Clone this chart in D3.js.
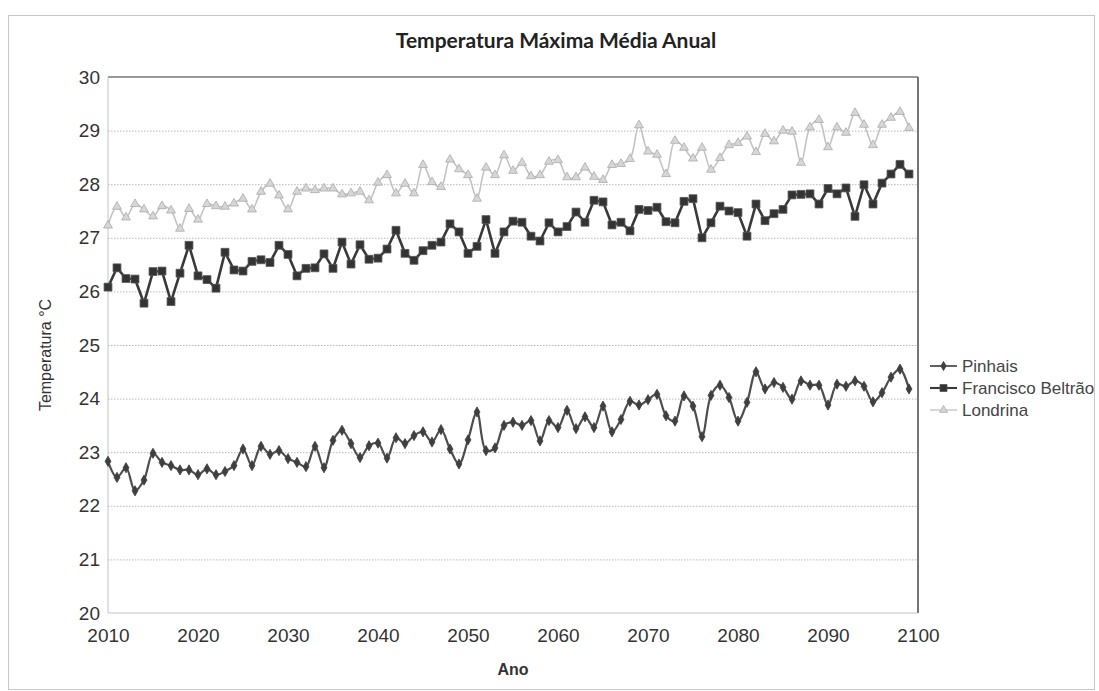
<!DOCTYPE html>
<html>
<head>
<meta charset="utf-8">
<script src="https://cdn.jsdelivr.net/npm/d3@7"></script>
<style>
  html, body { margin: 0; padding: 0; background: #fff; }
  svg { display: block; }
</style>
</head>
<body>
<div id="chart"></div>
<script>
// Annual mean maximum temperature projections, 2010–2099
const years = d3.range(2010, 2100);

const pinhais = [
  22.83, 22.53, 22.71, 22.28, 22.48, 22.98, 22.81, 22.75, 22.67, 22.67,
  22.58, 22.69, 22.58, 22.64, 22.75, 23.06, 22.75, 23.11, 22.96, 23.03,
  22.88, 22.81, 22.73, 23.11, 22.71, 23.22, 23.41, 23.16, 22.90, 23.12,
  23.17, 22.89, 23.27, 23.16, 23.31, 23.38, 23.19, 23.42, 23.06, 22.78,
  23.23, 23.75, 23.03, 23.08, 23.50, 23.56, 23.50, 23.59, 23.21, 23.59,
  23.46, 23.78, 23.44, 23.66, 23.46, 23.86, 23.38, 23.61, 23.95, 23.88,
  23.98, 24.08, 23.68, 23.58, 24.05, 23.86, 23.29, 24.06, 24.25, 24.02,
  23.58, 23.93, 24.50, 24.18, 24.30, 24.21, 23.99, 24.33, 24.25, 24.25,
  23.88, 24.27, 24.23, 24.33, 24.23, 23.94, 24.11, 24.40, 24.55, 24.18
];

const franciscoBeltrao = [
  26.08, 26.44, 26.24, 26.23, 25.78, 26.37, 26.38, 25.81, 26.34, 26.86,
  26.29, 26.22, 26.06, 26.73, 26.40, 26.38, 26.56, 26.59, 26.54, 26.86,
  26.69, 26.29, 26.43, 26.44, 26.70, 26.43, 26.92, 26.51, 26.87, 26.60,
  26.62, 26.79, 27.14, 26.71, 26.58, 26.76, 26.86, 26.92, 27.26, 27.11,
  26.71, 26.84, 27.34, 26.71, 27.11, 27.31, 27.29, 27.03, 26.94, 27.28,
  27.11, 27.21, 27.48, 27.29, 27.70, 27.67, 27.24, 27.29, 27.13, 27.53,
  27.51, 27.57, 27.30, 27.28, 27.68, 27.73, 27.00, 27.28, 27.59, 27.50,
  27.47, 27.03, 27.63, 27.32, 27.45, 27.53, 27.80, 27.81, 27.82, 27.63,
  27.92, 27.82, 27.93, 27.40, 27.99, 27.63, 28.02, 28.19, 28.37, 28.19
];

const londrina = [
  27.23, 27.58, 27.38, 27.63, 27.53, 27.40, 27.59, 27.51, 27.17, 27.54,
  27.34, 27.63, 27.59, 27.58, 27.64, 27.73, 27.53, 27.86, 28.01, 27.79,
  27.53, 27.86, 27.92, 27.89, 27.92, 27.92, 27.81, 27.83, 27.86, 27.70,
  28.03, 28.17, 27.83, 28.01, 27.83, 28.36, 28.04, 27.95, 28.46, 28.28,
  28.17, 27.73, 28.31, 28.17, 28.54, 28.25, 28.40, 28.15, 28.17, 28.42,
  28.45, 28.13, 28.13, 28.31, 28.14, 28.08, 28.36, 28.38, 28.47, 29.10,
  28.61, 28.55, 28.19, 28.81, 28.68, 28.48, 28.68, 28.27, 28.49, 28.73,
  28.77, 28.89, 28.60, 28.94, 28.80, 29.00, 28.98, 28.40, 29.06, 29.20,
  28.69, 29.06, 28.96, 29.33, 29.11, 28.73, 29.11, 29.24, 29.35, 29.05
];

const seriesNames = ["Pinhais", "Francisco Beltrão", "Londrina"];
const xTicks = [2010, 2020, 2030, 2040, 2050, 2060, 2070, 2080, 2090, 2100];
const yTicks = [20, 21, 22, 23, 24, 25, 26, 27, 28, 29, 30];

const W = 1099, H = 691;
const plot = { left: 108, right: 918, top: 77, bottom: 613 };
const axisFont = "'Liberation Sans', Arial, sans-serif";

const svg = d3.select("#chart").append("svg")
  .attr("width", W).attr("height", H);

// chart area frame
svg.append("rect")
  .attr("x", 8.5).attr("y", 15.5)
  .attr("width", 1086).attr("height", 674)
  .attr("fill", "#fff").attr("stroke", "#c8c8c8").attr("stroke-width", 1);

const x = d3.scaleLinear().domain([2010, 2100]).range([plot.left, plot.right]);
const y = d3.scaleLinear().domain([20, 30]).range([plot.bottom, plot.top]);

// horizontal dotted gridlines
const yGrid = d3.axisLeft(y).tickValues(yTicks.slice(1, -1))
  .tickSize(-(plot.right - plot.left)).tickFormat("");
svg.append("g")
  .attr("transform", `translate(${plot.left},0)`)
  .call(yGrid)
  .call(g => g.select(".domain").remove())
  .call(g => g.selectAll("line")
    .attr("stroke", "#b8b8b8").attr("stroke-width", 1)
    .attr("stroke-dasharray", "1.5,1.5"));

// plot area border
const border = svg.append("g");
border.append("line").attr("x1", plot.left).attr("x2", plot.right)
  .attr("y1", plot.top).attr("y2", plot.top)
  .attr("stroke", "#777").attr("stroke-width", 1.5);
border.append("line").attr("x1", plot.right).attr("x2", plot.right)
  .attr("y1", plot.top).attr("y2", plot.bottom)
  .attr("stroke", "#666").attr("stroke-width", 1.8);
border.append("line").attr("x1", plot.left).attr("x2", plot.right)
  .attr("y1", plot.bottom).attr("y2", plot.bottom)
  .attr("stroke", "#c4c4c4").attr("stroke-width", 1);
border.append("line").attr("x1", plot.left).attr("x2", plot.left)
  .attr("y1", plot.top).attr("y2", plot.bottom)
  .attr("stroke", "#c4c4c4").attr("stroke-width", 1);

// axes (labels only)
const yAxis = d3.axisLeft(y).tickValues(yTicks).tickSize(0).tickPadding(8)
  .tickFormat(d3.format("d"));
svg.append("g")
  .attr("transform", `translate(${plot.left},0)`)
  .call(yAxis)
  .call(g => g.select(".domain").remove())
  .call(g => g.selectAll("text")
    .attr("font-family", axisFont).attr("font-size", 19)
    .attr("fill", "#333"));

const xAxis = d3.axisBottom(x).tickValues(xTicks).tickSize(0).tickPadding(16)
  .tickFormat(d3.format("d"));
svg.append("g")
  .attr("transform", `translate(0,${plot.bottom})`)
  .call(xAxis)
  .call(g => g.select(".domain").remove())
  .call(g => g.selectAll("text")
    .attr("font-family", axisFont).attr("font-size", 19)
    .attr("fill", "#333"));

// titles
svg.append("text")
  .attr("x", 556).attr("y", 48)
  .attr("text-anchor", "middle")
  .attr("font-family", "Lato, 'Open Sans', sans-serif")
  .attr("font-weight", "bold").attr("font-size", 21)
  .attr("fill", "#222")
  .text("Temperatura Máxima Média Anual");

svg.append("text")
  .attr("x", (plot.left + plot.right) / 2).attr("y", 675)
  .attr("text-anchor", "middle")
  .attr("font-family", axisFont).attr("font-weight", "bold")
  .attr("font-size", 16).attr("fill", "#333")
  .text("Ano");

svg.append("text")
  .attr("transform", "translate(51,355) rotate(-90)")
  .attr("text-anchor", "middle")
  .attr("font-family", axisFont)
  .attr("font-size", 16).attr("fill", "#333")
  .text("Temperatura °C");

// series
const series = [
  { name: seriesNames[0], values: pinhais, color: "#4d4d4d", width: 2.2,
    curve: d3.curveCatmullRom.alpha(0.5), symbol: d3.symbolDiamond, size: 30,
    fill: "#3f3f3f", stroke: "#3f3f3f" },
  { name: seriesNames[1], values: franciscoBeltrao, color: "#393939", width: 2.6,
    curve: d3.curveLinear, symbol: d3.symbolSquare, size: 62,
    fill: "#333", stroke: "#555" },
  { name: seriesNames[2], values: londrina, color: "#c2c2c2", width: 1.6,
    curve: d3.curveCatmullRom.alpha(0.5), symbol: d3.symbolTriangle, size: 34,
    fill: "#d6d6d6", stroke: "#ababab" }
];

const line = d3.line().x(d => x(d[0])).y(d => y(d[1]));

series.forEach(s => {
  const pts = years.map((yr, i) => [yr, s.values[i]]);
  svg.append("path")
    .datum(pts)
    .attr("fill", "none")
    .attr("stroke", s.color)
    .attr("stroke-width", s.width)
    .attr("stroke-linejoin", "round")
    .attr("d", line.curve(s.curve));
  svg.append("g").selectAll("path")
    .data(pts).join("path")
    .attr("transform", d => `translate(${x(d[0])},${y(d[1])})`)
    .attr("d", d3.symbol().type(s.symbol).size(s.size))
    .attr("fill", s.fill)
    .attr("stroke", s.stroke)
    .attr("stroke-width", 0.8);
});

// legend
const legend = svg.append("g").attr("transform", "translate(930,366)");
series.forEach((s, i) => {
  const g = legend.append("g").attr("transform", `translate(0,${i * 22})`);
  g.append("line").attr("x1", 0).attr("x2", 27).attr("y1", 0).attr("y2", 0)
    .attr("stroke", s.color).attr("stroke-width", s.width * 0.8);
  g.append("path")
    .attr("transform", "translate(13.5,0)")
    .attr("d", d3.symbol().type(s.symbol).size(s.size * 0.8))
    .attr("fill", s.fill).attr("stroke", s.stroke).attr("stroke-width", 0.8);
  g.append("text")
    .attr("x", 32).attr("y", 0).attr("dy", "0.35em")
    .attr("font-family", axisFont).attr("font-size", 17)
    .attr("fill", "#444")
    .text(s.name);
});
</script>
</body>
</html>
